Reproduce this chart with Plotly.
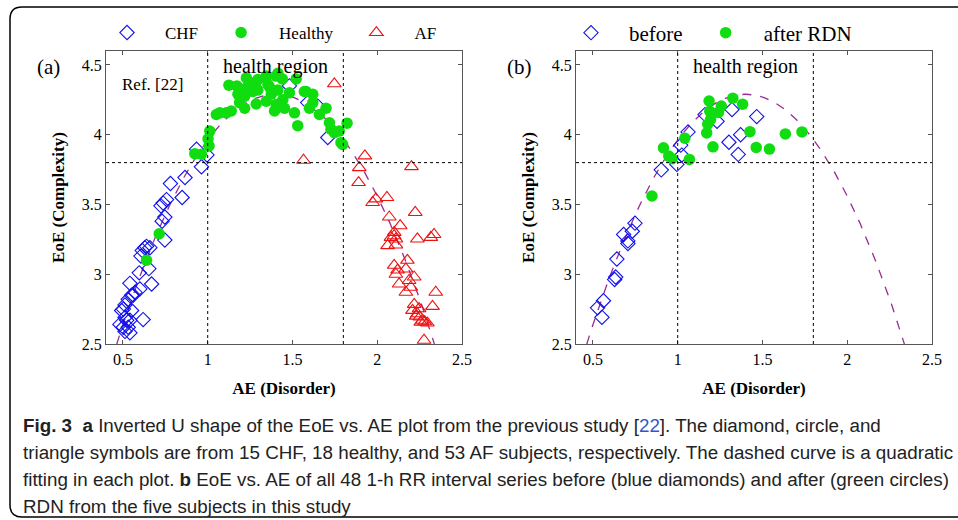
import numpy as np
import plotly.graph_objects as go

# ---------------- data ----------------
# Panel (a): previous study [22]
chf_x = [1.482, 1.59, 1.649, 1.708, 0.996, 0.934, 0.963, 0.866, 0.78,
         0.849, 0.737, 0.757, 0.724, 0.747, 0.731, 0.747,
         0.629, 0.614, 0.659, 0.639, 0.606, 0.653, 0.596, 0.669,
         0.541, 0.6, 0.571, 0.561, 0.531, 0.551, 0.512, 0.502, 0.551, 0.492,
         0.619, 0.512, 0.522, 0.482, 0.541, 0.531, 0.512, 0.541, 0.502]
chf_y = [4.35, 4.23, 4.205, 3.98, 3.855, 3.896, 3.77, 3.693, 3.65,
         3.55, 3.51, 3.535, 3.49, 3.41, 3.38, 3.245,
         3.19, 3.17, 3.19, 3.2, 3.13, 3.04, 3.01, 2.93,
         2.935, 2.895, 2.87, 2.85, 2.82, 2.85, 2.78, 2.75, 2.74, 2.74,
         2.675, 2.69, 2.67, 2.64, 2.67, 2.62, 2.59, 2.58, 2.62]

healthy_x = [1.125, 1.172, 1.178, 1.228, 1.228, 1.218, 1.188, 1.218, 1.139, 1.11, 1.071, 1.051,
             1.286, 1.296, 1.296, 1.266, 1.286, 1.345, 1.345, 1.355, 1.365, 1.375, 1.345,
             1.404, 1.414, 1.414, 1.404, 1.404, 1.394, 1.443, 1.453, 1.482, 1.44, 1.25,
             1.522, 1.512, 1.531, 1.57, 1.58, 1.62, 1.6, 1.62, 1.659, 1.698,
             1.718, 1.727, 1.747, 1.776, 1.822, 1.786, 1.796,
             1.012, 1.002, 1.008, 0.924, 0.963, 0.714, 0.639]
healthy_y = [4.355, 4.35, 4.29, 4.407, 4.336, 4.276, 4.23, 4.19, 4.17, 4.157, 4.157, 4.145,
             4.38, 4.396, 4.32, 4.31, 4.22, 4.42, 4.41, 4.36, 4.34, 4.29, 4.24,
             4.42, 4.44, 4.32, 4.217, 4.19, 4.17, 4.25, 4.19, 4.30, 4.40, 4.37,
             4.40, 4.157, 4.065, 4.31, 4.31, 4.29, 4.19, 4.23, 4.145, 4.19,
             4.086, 4.04, 4.014, 4.026, 4.083, 3.943, 3.93,
             4.026, 3.97, 3.92, 3.864, 3.86, 3.29, 3.10]

af_x = [1.747, 1.565, 1.927, 1.894, 2.202, 1.89,
        1.973, 1.992, 2.057, 2.071, 2.224, 2.135, 2.1, 2.081, 2.11, 2.061, 2.11, 2.1,
        2.237, 2.316, 2.335, 2.178, 2.1, 2.12, 2.169, 2.11, 2.218, 2.188, 2.129, 2.198,
        2.169, 2.345, 2.326, 2.218, 2.247, 2.208, 2.237, 2.251, 2.267, 2.296, 2.257,
        2.276, 2.28, 2.23]
af_y = [4.365, 3.817, 3.848, 3.764, 3.771, 3.657,
        3.514, 3.54, 3.55, 3.41, 3.443, 3.348, 3.3, 3.264, 3.253, 3.205, 3.21, 3.276,
        3.253, 3.264, 3.285, 3.10, 3.064, 3.03, 3.038, 3.0, 2.98, 2.955, 2.93, 2.907,
        2.871, 2.871, 2.77, 2.784, 2.753, 2.741, 2.717, 2.693, 2.67, 2.65, 2.657,
        2.527, 2.66, 2.70]

# Panel (b): this study, before / after RDN
before_x = [1.32, 1.466, 1.232, 1.161, 1.371, 1.302, 1.357, 1.061, 1.018, 1.024, 0.995, 0.903,
            0.748, 0.732, 0.681, 0.706, 0.706, 0.641, 0.634, 0.628, 0.562, 0.527, 0.553]
before_y = [4.18, 4.13, 4.096, 4.144, 4.0, 3.946, 3.859, 4.02, 3.925, 3.854, 3.787, 3.748,
            3.366, 3.308, 3.285, 3.239, 3.22, 3.109, 2.98, 2.962, 2.81, 2.759, 2.691]

after_x = [1.185, 1.325, 1.383, 1.257, 1.189, 1.24, 1.194, 1.177, 1.171, 1.208, 1.426, 1.463,
           1.541, 1.635, 1.733, 1.042, 0.916, 0.947, 0.967, 1.069, 0.848]
after_y = [4.242, 4.262, 4.218, 4.205, 4.168, 4.16, 4.109, 4.075, 4.013, 3.913, 4.022, 3.909,
           3.897, 4.006, 4.02, 3.975, 3.906, 3.847, 3.828, 3.823, 3.561]

# quadratic fit (EoE = c2*AE^2 + c1*AE + c0)
fit_coef = [-2.034, 5.699, 0.298]
region_bounds_x = [1.0, 1.8]
region_bound_y = 3.8

x_ticks = [0.5, 1, 1.5, 2, 2.5]
y_ticks = [2.5, 3, 3.5, 4, 4.5]
x_range = [0.4, 2.5]
y_range = [2.5, 4.6]

# ---------------- figure ----------------
W, H = 958, 520
def px(x):
    return x / W
def py(y):
    return 1 - y / H

SERIF = "Liberation Serif"
BLUE = "#1010ee"
GREEN = "#10dd10"
RED = "#ee1111"
PURPLE = "#9a2c94"

fig = go.Figure()

fit_x = np.linspace(x_range[0], x_range[1], 300)
fit_y = np.polyval(fit_coef, fit_x)

# panel a
fig.add_trace(go.Scatter(x=fit_x, y=fit_y, mode="lines", line=dict(color=PURPLE, width=1.3, dash="dash"),
                         showlegend=False, xaxis="x", yaxis="y", hoverinfo="skip"))
fig.add_trace(go.Scatter(x=chf_x, y=chf_y, mode="markers", name="CHF",
                         marker=dict(symbol="diamond-open", size=11, color=BLUE, line=dict(width=1.1)),
                         xaxis="x", yaxis="y", legend="legend"))
fig.add_trace(go.Scatter(x=healthy_x, y=healthy_y, mode="markers", name="Healthy",
                         marker=dict(symbol="circle", size=11.5, color=GREEN),
                         xaxis="x", yaxis="y", legend="legend"))
fig.add_trace(go.Scatter(x=af_x, y=af_y, mode="markers", name="AF",
                         marker=dict(symbol="triangle-up-open", size=12, color=RED, line=dict(width=1.1)),
                         xaxis="x", yaxis="y", legend="legend"))
# panel b
fig.add_trace(go.Scatter(x=fit_x, y=fit_y, mode="lines", line=dict(color=PURPLE, width=1.3, dash="dash"),
                         showlegend=False, xaxis="x2", yaxis="y2", hoverinfo="skip"))
fig.add_trace(go.Scatter(x=before_x, y=before_y, mode="markers", name="before",
                         marker=dict(symbol="diamond-open", size=11, color=BLUE, line=dict(width=1.1)),
                         xaxis="x2", yaxis="y2", legend="legend2"))
fig.add_trace(go.Scatter(x=after_x, y=after_y, mode="markers", name="after RDN",
                         marker=dict(symbol="circle", size=11.5, color=GREEN),
                         xaxis="x2", yaxis="y2", legend="legend2"))

axis_common = dict(showline=True, linecolor="#555555", linewidth=1, mirror="ticks",
                   ticks="inside", ticklen=4, tickcolor="#555555", showgrid=False, zeroline=False,
                   tickfont=dict(family=SERIF, size=16, color="black"), automargin=False)

ydom = [py(344), py(51)]
xtitle = dict(text="<b>AE (Disorder)</b>", font=dict(family=SERIF, size=17, color="black"), standoff=14)
ytitle = dict(text="<b>EoE (Complexity)</b>", font=dict(family=SERIF, size=17, color="black"), standoff=12)
fig.update_layout(
    width=W, height=H, margin=dict(l=0, r=0, t=0, b=0),
    paper_bgcolor="white", plot_bgcolor="white",
    xaxis=dict(domain=[px(106), px(462)], range=x_range, tickvals=x_ticks, anchor="y",
               title=xtitle, ticklabelstandoff=1, **axis_common),
    yaxis=dict(domain=ydom, range=y_range, tickvals=y_ticks, anchor="x",
               title=ytitle, ticklabelstandoff=0, **axis_common),
    xaxis2=dict(domain=[px(576), px(932)], range=x_range, tickvals=x_ticks, anchor="y2",
                title=xtitle, ticklabelstandoff=1, **axis_common),
    yaxis2=dict(domain=ydom, range=y_range, tickvals=y_ticks, anchor="x2",
                title=ytitle, ticklabelstandoff=0, **axis_common),
    legend=dict(orientation="h", x=px(89), xanchor="left", y=py(33), yanchor="middle",
                font=dict(family=SERIF, size=17, color="black"), itemwidth=66,
                bgcolor="rgba(0,0,0,0)", borderwidth=0),
    legend2=dict(orientation="h", x=px(553), xanchor="left", y=py(33), yanchor="middle",
                 font=dict(family=SERIF, size=21, color="black"), itemwidth=66,
                 bgcolor="rgba(0,0,0,0)", borderwidth=0),
)

# dotted region lines
for xa, ya in (("x", "y"), ("x2", "y2")):
    for bx in region_bounds_x:
        fig.add_shape(type="line", xref=xa, yref=ya + " domain", x0=bx, x1=bx, y0=0, y1=1,
                      line=dict(color="black", width=1, dash="dot"))
    fig.add_shape(type="line", xref=xa + " domain", yref=ya, x0=0, x1=1, y0=region_bound_y, y1=region_bound_y,
                  line=dict(color="black", width=1, dash="dot"))
    fig.add_annotation(xref=xa, yref=ya, x=1.4, y=4.49, text="health region", showarrow=False,
                       xanchor="center", yanchor="middle",
                       font=dict(family=SERIF, size=20, color="black"))

fig.add_annotation(xref="x", yref="y", x=0.676, y=4.36, text="Ref. [22]", showarrow=False,
                   xanchor="center", yanchor="middle",
                   font=dict(family=SERIF, size=17, color="black"))
fig.add_annotation(xref="paper", yref="paper", x=px(48), y=py(67), text="(a)", showarrow=False,
                   xanchor="center", yanchor="middle",
                   font=dict(family=SERIF, size=21, color="black"))
fig.add_annotation(xref="paper", yref="paper", x=px(519), y=py(67), text="(b)", showarrow=False,
                   xanchor="center", yanchor="middle",
                   font=dict(family=SERIF, size=21, color="black"))

# outer rounded frame (right edge beyond the image)
x0, y0, y1 = px(10), py(7), py(517)
rx, ry = px(12), 12 / H
path = (f"M 1.02,{y0} L {x0+rx},{y0} Q {x0},{y0} {x0},{y0-ry} "
        f"L {x0},{y1+ry} Q {x0},{y1} {x0+rx},{y1} L 1.02,{y1}")
fig.add_shape(type="path", xref="paper", yref="paper", path=path, line=dict(color="black", width=1.5))

# caption
CAP = "Liberation Sans"
cap_lines = [
    "<b>Fig. 3</b>  <b>a</b> Inverted U shape of the EoE vs. AE plot from the previous study [<span style='color:#3355cc'>22</span>]. The diamond, circle, and",
    "triangle symbols are from 15 CHF, 18 healthy, and 53 AF subjects, respectively. The dashed curve is a quadratic",
    "fitting in each plot. <b>b</b> EoE vs. AE of all 48 1-h RR interval series before (blue diamonds) and after (green circles)",
    "RDN from the five subjects in this study",
]
cap_y = [425, 452, 479, 506]
for t, yy in zip(cap_lines, cap_y):
    fig.add_annotation(xref="paper", yref="paper", x=px(21), y=py(yy), xanchor="left", yanchor="middle",
                       text=t, showarrow=False, align="left",
                       font=dict(family=CAP, size=18.8, color="#222222"))

fig.write_html("out.html", config={"displayModeBar": False},
               post_script="document.body.style.margin='0';document.body.style.overflow='hidden';")
